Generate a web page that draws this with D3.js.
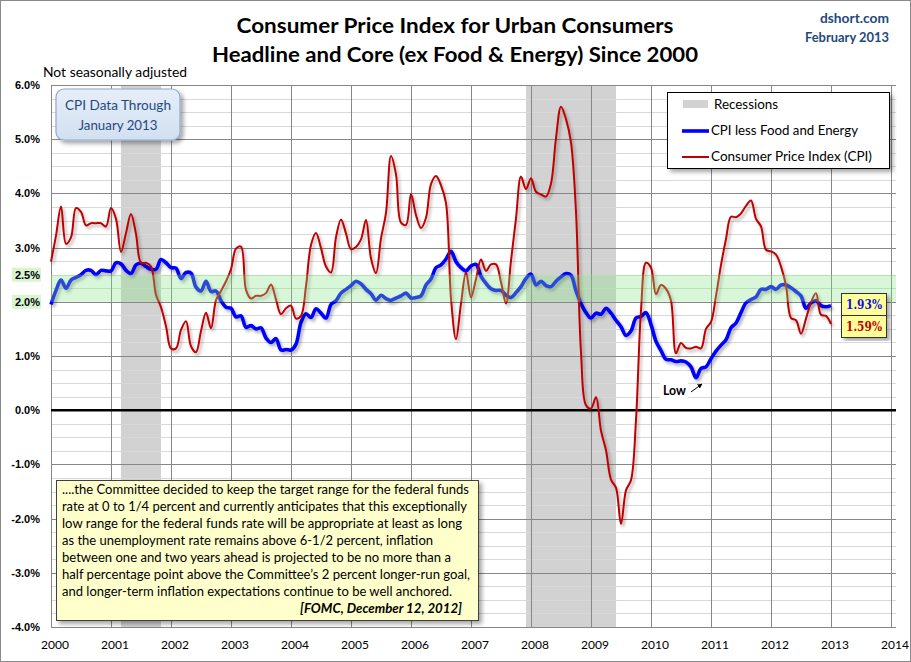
<!DOCTYPE html>
<html><head><meta charset="utf-8">
<script src="https://cdn.jsdelivr.net/npm/d3@7/dist/d3.min.js"></script>
<style>body{margin:0;background:#fff}svg{display:block}</style>
</head><body><div id="chart"></div>
<script>
// ---- DATA ----
const startYear = 2000; // monthly values starting Jan 2000, through Jan 2013
const cpiHeadline = [
 2.74,3.22,3.76,3.07,3.19,3.73,3.66,3.41,3.45,3.45,3.45,3.39,
 3.73,3.53,2.92,3.27,3.62,3.25,2.72,2.72,2.65,2.13,1.90,1.55,
 1.14,1.14,1.48,1.64,1.18,1.07,1.46,1.80,1.51,2.03,2.20,2.38,
 2.60,2.98,3.02,2.22,2.06,2.11,2.11,2.16,2.32,2.04,1.77,1.88,
 1.93,1.69,1.74,2.29,3.05,3.27,2.99,2.65,2.54,3.19,3.52,3.26,
 2.97,3.01,3.15,3.51,2.80,2.53,3.17,3.64,4.69,4.35,3.46,3.42,
 3.99,3.60,3.36,3.55,4.17,4.32,4.15,3.82,2.06,1.31,1.97,2.54,
 2.08,2.42,2.78,2.57,2.69,2.69,2.36,1.97,2.76,3.54,4.31,4.08,
 4.28,4.03,3.98,3.94,4.18,5.02,5.60,5.37,4.94,3.66,1.07,0.09,
 0.03,0.24,-0.38,-0.74,-1.28,-1.43,-2.10,-1.48,-1.29,-0.18,1.84,2.72,
 2.63,2.14,2.31,2.24,2.02,1.05,1.24,1.15,1.14,1.17,1.14,1.50,
 1.63,2.11,2.68,3.16,3.57,3.56,3.63,3.77,3.87,3.53,3.39,2.96,
 2.93,2.87,2.65,2.30,1.70,1.66,1.41,1.69,1.99,2.16,1.76,1.74,
 1.59];
const cpiCore = [
 1.95,2.21,2.40,2.25,2.40,2.45,2.50,2.58,2.58,2.50,2.58,2.57,
 2.57,2.72,2.70,2.58,2.52,2.68,2.71,2.65,2.60,2.60,2.78,2.72,
 2.63,2.62,2.43,2.54,2.53,2.27,2.20,2.38,2.19,2.20,2.02,1.90,
 1.88,1.72,1.74,1.53,1.56,1.50,1.52,1.33,1.25,1.32,1.11,1.12,
 1.11,1.22,1.62,1.78,1.71,1.87,1.79,1.70,1.95,2.02,2.16,2.23,
 2.30,2.38,2.33,2.23,2.15,2.03,2.12,2.06,2.03,2.07,2.11,2.16,
 2.07,2.08,2.11,2.31,2.42,2.63,2.68,2.79,2.93,2.74,2.63,2.57,
 2.66,2.69,2.47,2.34,2.24,2.21,2.21,2.12,2.08,2.17,2.28,2.43,
 2.51,2.31,2.38,2.30,2.28,2.38,2.46,2.52,2.49,2.20,1.97,1.80,
 1.70,1.79,1.77,1.88,1.79,1.66,1.54,1.38,1.46,1.70,1.73,1.80,
 1.58,1.27,1.10,0.94,0.93,0.90,0.91,0.89,0.80,0.60,0.77,0.80,
 0.95,1.09,1.20,1.30,1.52,1.61,1.80,1.98,2.04,2.09,2.23,2.23,
 2.28,2.23,2.31,2.31,2.26,2.19,2.11,1.88,1.98,2.02,1.93,1.91,
 1.93];
const recessions = [[2001.167, 2001.833], [2007.917, 2009.417]];
const targetBand = [2.0, 2.5];
const yearTicks = d3.range(2000, 2015);
const yTicks = d3.range(-4, 7);
const yMinorTicks = d3.range(-4, 6.01, 0.25);
const lastLabels = ["1.93%", "1.59%"];
const titleLines = ["Consumer Price Index for Urban Consumers", "Headline and Core (ex Food & Energy) Since 2000"];
const noteLines = [
 "....the Committee decided  to keep the target range for the federal funds",
 "rate at 0 to 1/4 percent and currently anticipates that this exceptionally",
 "low range for the federal funds rate will be appropriate at least as long",
 "as the unemployment  rate remains above 6-1/2 percent, inflation",
 "between one and two years ahead is projected to be no more than a",
 "half percentage point above the Committee\u2019s 2 percent longer-run goal,",
 "and longer-term inflation expectations continue to be well anchored."
];
const noteSource = "[FOMC, December 12, 2012]";
const legendItems = ["Recessions", "CPI less Food and Energy", "Consumer Price Index (CPI)"];

// ---- CHART ----
const W = 911, H = 662;
const FONT = "Lato, 'Open Sans', sans-serif";
const svg = d3.select("#chart").append("svg").attr("width", W).attr("height", H);
const defs = svg.append("defs");
const f1 = defs.append("filter").attr("id","lineShadow").attr("x","-5%").attr("y","-5%").attr("width","110%").attr("height","115%");
f1.append("feDropShadow").attr("dx",2).attr("dy",2.5).attr("stdDeviation",1.4).attr("flood-color","#000").attr("flood-opacity",0.3);
const f2 = defs.append("filter").attr("id","boxShadow").attr("x","-5%").attr("y","-5%").attr("width","115%").attr("height","120%");
f2.append("feDropShadow").attr("dx",3).attr("dy",3).attr("stdDeviation",2).attr("flood-color","#000").attr("flood-opacity",0.35);
const grad = defs.append("linearGradient").attr("id","blueBox").attr("x1",0).attr("y1",0).attr("x2",0).attr("y2",1);
grad.append("stop").attr("offset","0%").attr("stop-color","#e6eef8");
grad.append("stop").attr("offset","100%").attr("stop-color","#d2e0f1");

svg.append("rect").attr("x",0.5).attr("y",0.5).attr("width",W-1).attr("height",H-1)
  .attr("fill","#fff").attr("stroke","#8a8a8a");

const x = d3.scaleLinear().domain([2000, 2014]).range([51, 891]);
const y = d3.scaleLinear().domain([-4, 6]).range([627, 85]);
const xL = 51, xR = 896;

// recessions
svg.append("g").selectAll("rect").data(recessions).join("rect")
  .attr("x", d => x(d[0])).attr("width", d => x(d[1]) - x(d[0]))
  .attr("y", y(6)).attr("height", y(-4) - y(6)).attr("fill", "#d2d2d2");

// gridlines
const grid = svg.append("g");
grid.selectAll(".mn").data(yMinorTicks.filter(v => Math.abs(v - Math.round(v)) > 0.01)).join("line")
  .attr("x1", xL).attr("x2", xR).attr("y1", d => Math.round(y(d)) + 0.5).attr("y2", d => Math.round(y(d)) + 0.5)
  .attr("stroke", "#d9d9d9").attr("stroke-width", 1);
grid.selectAll(".mj").data(yTicks.filter(v => v !== 0)).join("line")
  .attr("x1", xL).attr("x2", xR).attr("y1", d => Math.round(y(d)) + 0.5).attr("y2", d => Math.round(y(d)) + 0.5)
  .attr("stroke", "#878787").attr("stroke-width", 1);
grid.selectAll(".vx").data(yearTicks).join("line")
  .attr("x1", d => Math.round(x(d)) + 0.5).attr("x2", d => Math.round(x(d)) + 0.5)
  .attr("y1", y(6)).attr("y2", y(-4))
  .attr("stroke", "#878787").attr("stroke-width", 1);
grid.append("line").attr("x1", xL).attr("x2", xR).attr("y1", y(0)).attr("y2", y(0))
  .attr("stroke", "#000").attr("stroke-width", 2.5);

// lines
const toPts = arr => arr.map((v, i) => [startYear + i / 12, v]);
const line = d3.line().x(d => x(d[0])).y(d => y(d[1])).curve(d3.curveCatmullRom.alpha(0.5));
svg.append("path").datum(toPts(cpiCore)).attr("d", line).attr("fill", "none")
  .attr("stroke", "#0000ff").attr("stroke-width", 3.6).attr("stroke-linejoin","round").attr("filter", "url(#lineShadow)");
svg.append("path").datum(toPts(cpiHeadline)).attr("d", line).attr("fill", "none")
  .attr("stroke", "#c00000").attr("stroke-width", 2).attr("stroke-linejoin","round").attr("filter", "url(#lineShadow)");

// target band (over lines)
svg.append("rect").attr("x", xL).attr("width", xR - xL)
  .attr("y", y(targetBand[1])).attr("height", y(targetBand[0]) - y(targetBand[1]))
  .attr("fill", "#86e386").attr("opacity", 0.32);

// y labels
const yl = svg.append("g");
yl.selectAll("rect").data(targetBand).join("rect")
  .attr("x", 12).attr("width", 29).attr("y", d => y(d) - 7).attr("height", 14)
  .attr("fill", "#d8f5d0");
yl.selectAll("text").data(yTicks.concat([2.5])).join("text")
  .attr("x", 40).attr("y", d => y(d) + 4).attr("text-anchor", "end")
  .attr("font-family", "'Liberation Sans', Arial, sans-serif").attr("font-weight", "bold").attr("font-size", 11)
  .attr("fill", "#000").text(d => d.toFixed(1) + "%");

// x labels
svg.append("g").selectAll("text").data(yearTicks).join("text")
  .attr("x", d => x(d) + 4).attr("y", 649).attr("text-anchor", "middle")
  .attr("font-family", FONT).attr("font-size", 12).attr("fill", "#000").text(d => d);

// title
svg.append("g").selectAll("text").data(titleLines).join("text")
  .attr("x", 455).attr("y", (d, i) => 33 + i * 29).attr("text-anchor", "middle")
  .attr("font-family", FONT).attr("font-weight", "bold").attr("font-size", 20).attr("fill", "#000")
  .attr("textLength", (d, i) => i === 0 ? 437 : 486).attr("lengthAdjust", "spacingAndGlyphs")
  .text(d => d);
svg.append("text").attr("x", 889).attr("y", 23).attr("text-anchor", "end")
  .attr("font-family", FONT).attr("font-weight", "bold").attr("font-size", 14).attr("fill", "#1f497d")
  .attr("textLength", 69).attr("lengthAdjust", "spacingAndGlyphs").text("dshort.com");
svg.append("text").attr("x", 889).attr("y", 42).attr("text-anchor", "end")
  .attr("font-family", FONT).attr("font-weight", "bold").attr("font-size", 14).attr("fill", "#1f497d")
  .attr("textLength", 84).attr("lengthAdjust", "spacingAndGlyphs").text("February 2013");
svg.append("text").attr("x", 43).attr("y", 77)
  .attr("font-family", FONT).attr("font-size", 14).attr("fill", "#000")
  .attr("textLength", 144).attr("lengthAdjust", "spacingAndGlyphs").text("Not seasonally adjusted");

// CPI data through box
svg.append("rect").attr("x", 56).attr("y", 89).attr("width", 124).attr("height", 51).attr("rx", 8)
  .attr("fill", "url(#blueBox)").attr("stroke", "#8eaad0").attr("stroke-width", 1.2).attr("filter", "url(#boxShadow)");
svg.append("text").attr("x", 118).attr("y", 110).attr("text-anchor", "middle")
  .attr("font-family", FONT).attr("font-size", 14).attr("fill", "#1f497d")
  .attr("textLength", 106).attr("lengthAdjust", "spacingAndGlyphs").text("CPI Data Through");
svg.append("text").attr("x", 118).attr("y", 130).attr("text-anchor", "middle")
  .attr("font-family", FONT).attr("font-size", 14).attr("fill", "#1f497d")
  .attr("textLength", 79).attr("lengthAdjust", "spacingAndGlyphs").text("January 2013");

// legend
const lg = svg.append("g");
lg.append("rect").attr("x", 667.5).attr("y", 92.5).attr("width", 222).attr("height", 76)
  .attr("fill", "#fff").attr("stroke", "#000").attr("filter", "url(#boxShadow)");
lg.append("rect").attr("x", 683).attr("y", 100).attr("width", 25).attr("height", 8).attr("fill", "#d2d2d2");
lg.append("line").attr("x1", 682).attr("x2", 709).attr("y1", 131).attr("y2", 131).attr("stroke", "#0000ff").attr("stroke-width", 3.6);
lg.append("line").attr("x1", 682).attr("x2", 709).attr("y1", 157).attr("y2", 157).attr("stroke", "#c00000").attr("stroke-width", 2);
lg.selectAll("text").data(legendItems).join("text")
  .attr("x", (d, i) => i === 0 ? 714 : 711).attr("y", (d, i) => 109 + i * 26)
  .attr("font-family", FONT).attr("font-size", 13).attr("fill", "#000")
  .attr("textLength", (d, i) => [64, 147, 161][i]).attr("lengthAdjust", "spacingAndGlyphs")
  .text(d => d);

// last value labels
const vl = svg.append("g");
const lastColors = ["#1010e0", "#c00000"];
vl.selectAll("rect").data(lastLabels).join("rect")
  .attr("x", 841.5).attr("y", (d, i) => 293.5 + i * 22).attr("width", 45).attr("height", 22)
  .attr("fill", "#ffff99").attr("stroke", "#333").attr("filter", "url(#boxShadow)");
vl.selectAll("text").data(lastLabels).join("text")
  .attr("x", 864).attr("y", (d, i) => 309 + i * 22).attr("text-anchor", "middle")
  .attr("font-family", "'DejaVu Serif', 'Liberation Serif', serif").attr("font-weight", "bold").attr("font-size", 12)
  .attr("textLength", 36).attr("lengthAdjust", "spacingAndGlyphs")
  .attr("fill", (d, i) => lastColors[i]).text(d => d);

// Low annotation
defs.append("marker").attr("id", "arr").attr("viewBox", "0 0 10 10").attr("refX", 9).attr("refY", 5)
  .attr("markerWidth", 5).attr("markerHeight", 5).attr("orient", "auto")
  .append("path").attr("d", "M0,0 L10,5 L0,10 z").attr("fill", "#000");
svg.append("rect").attr("x", 660).attr("y", 383).attr("width", 28).attr("height", 16).attr("fill", "#fff");
svg.append("text").attr("x", 663).attr("y", 395)
  .attr("font-family", FONT).attr("font-weight", "bold").attr("font-size", 13).attr("fill", "#000")
  .attr("textLength", 23).attr("lengthAdjust", "spacingAndGlyphs").text("Low");
svg.append("line").attr("x1", 691).attr("y1", 392).attr("x2", 702).attr("y2", 384)
  .attr("stroke", "#000").attr("stroke-width", 1).attr("marker-end", "url(#arr)");

// note box
const nb = svg.append("g");
nb.append("rect").attr("x", 56.5).attr("y", 480.5).attr("width", 422).attr("height", 140)
  .attr("fill", "#ffffcc").attr("stroke", "#404040").attr("filter", "url(#boxShadow)");
const noteW = [407, 405, 400, 371, 389, 408, 390];
nb.selectAll(".nl").data(noteLines).join("text")
  .attr("x", 62).attr("y", (d, i) => 494 + i * 17)
  .attr("font-family", FONT).attr("font-size", 13.5).attr("fill", "#000")
  .attr("textLength", (d, i) => noteW[i]).attr("lengthAdjust", "spacingAndGlyphs")
  .text(d => d);
nb.append("text").attr("x", 462).attr("y", 613).attr("text-anchor", "end")
  .attr("font-family", FONT).attr("font-size", 13.5).attr("font-weight", "bold").attr("font-style", "italic")
  .attr("textLength", 162).attr("lengthAdjust", "spacingAndGlyphs").text(noteSource);
</script></body></html>
